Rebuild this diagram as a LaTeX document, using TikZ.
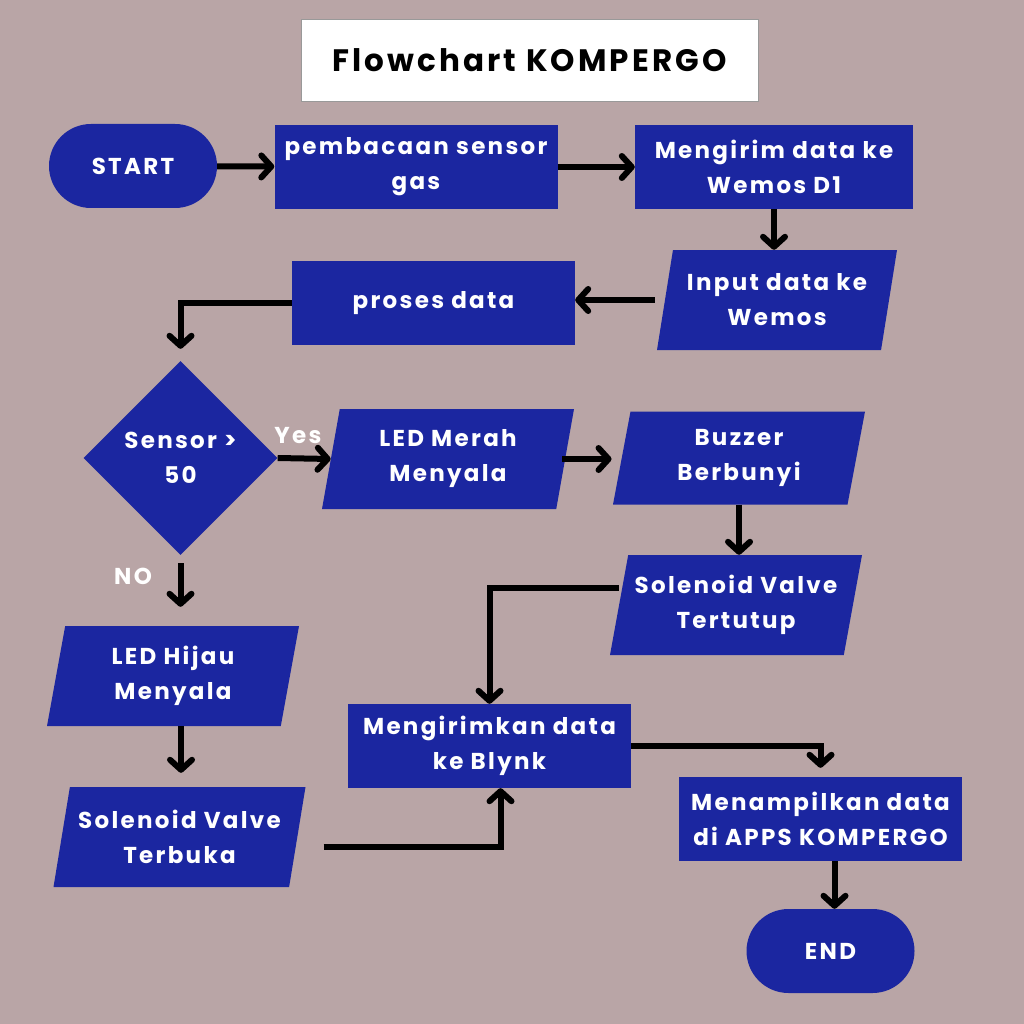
\documentclass[tikz,border=0pt]{standalone}
\usepackage{fontspec}
\setmainfont{Poppins}
\newfontfamily\renggang{Poppins}[LetterSpace=10]
\usetikzlibrary{shapes.geometric,shapes.misc,arrows.meta}

\definecolor{latar}{RGB}{185,165,166}
\definecolor{biru}{RGB}{27,38,160}
\newcommand\teks{\renggang\bfseries\fontsize{23}{35}\selectfont}

\tikzset{
  kotak/.style={rectangle, fill=biru, text=white, align=center, font=\teks,
    minimum width=283pt, minimum height=84pt, inner sep=0pt},
  jajar/.style={trapezium, trapezium left angle=73, trapezium right angle=107,
    trapezium stretches body, fill=biru, text=white, align=center, font=\teks,
    minimum width=252pt, minimum height=100pt, inner sep=0pt},
  kapsul/.style={rounded rectangle, fill=biru, text=white, font=\teks,
    minimum width=168pt, minimum height=84pt, inner sep=0pt},
  belah/.style={diamond, fill=biru, text=white, align=center, font=\teks,
    minimum size=194pt, inner sep=0pt},
  ket/.style={text=white, font=\teks},
  panah/.style={line width=6pt, -{Straight Barb[length=10pt,width=22pt,round]}}
}

\begin{document}
\begin{tikzpicture}[x=1pt, y=-1pt]
  \fill[latar] (0,0) rectangle (1024,1024);
  \useasboundingbox (0,0) rectangle (1024,1024);

  % judul
  \node[draw=gray!80, fill=white, minimum width=457pt, minimum height=82pt,
    font=\renggang\bfseries\fontsize{31}{31}\selectfont] (judul) at (529.5,60) {Flowchart KOMPERGO};

  % baris atas
  \node[kapsul] (mulai) at (133,166) {START};
  \node[kotak] (baca) at (416,167) {pembacaan sensor\\gas};
  \node[kotak, minimum width=278pt] (kirim) at (774,167) {Mengirim data ke\\Wemos D1};
  \node[jajar, minimum width=240pt] (input) at (777,300) {Input data ke\\Wemos};
  \node[kotak] (proses) at (433.5,303) {proses data};

  % keputusan
  \node[belah] (cek) at (180.5,458) {Sensor >\\50};
  \node[jajar] (merah) at (448,459) {LED Merah\\Menyala};
  \node[jajar, minimum height=93pt] (buzzer) at (739,458) {Buzzer\\Berbunyi};
  \node[jajar] (tutup) at (736,605) {Solenoid Valve\\Tertutup};
  \node[jajar] (hijau) at (173,676) {LED Hijau\\Menyala};
  \node[jajar] (buka) at (179.5,837) {Solenoid Valve\\Terbuka};
  \node[ket] (ya) at (298,436) {Yes};
  \node[ket] (tidak) at (133,576) {NO};

  % bawah
  \node[kotak] (blynk) at (489.5,746) {Mengirimkan data\\ke Blynk};
  \node[kotak] (tampil) at (820.5,819) {Menampilkan data\\di APPS KOMPERGO};
  \node[kapsul] (selesai) at (830.5,951) {END};

  % alur
  \draw[panah] (mulai) -- (baca);
  \draw[panah] (baca) -- (kirim);
  \draw[panah] (kirim.south) -- (kirim.south |- input.north);
  \draw[panah] ([xshift=-10pt]input.west) -- (proses.east |- input.west);
  \draw[panah] (proses.west) -| ([yshift=12pt]cek.north);
  \draw[panah] (cek.east) -- (merah.west);
  \draw[panah, shorten >=10pt] ([xshift=-3pt]merah.east) -- (merah.east -| buzzer.west);
  \draw[panah] (buzzer.south) -- (buzzer.south |- tutup.north);
  \draw[panah] ([yshift=17pt]tutup.west) -| (blynk.north);
  \draw[panah] ([yshift=-8pt]cek.south) -- ([yshift=19pt]cek.south |- hijau.north);
  \draw[panah] ([xshift=8pt]hijau.south) -- ([xshift=8pt,yshift=14pt]hijau.south |- buka.north);
  \draw[panah] ([xshift=26pt,yshift=-10pt]buka.east) -| ([xshift=11pt]blynk.south);
  \draw[panah] (blynk.east) -| ([yshift=9pt]tampil.north);
  \draw[panah] ([xshift=14pt]tampil.south) -- ([xshift=4pt]selesai.north);
\end{tikzpicture}
\end{document}
